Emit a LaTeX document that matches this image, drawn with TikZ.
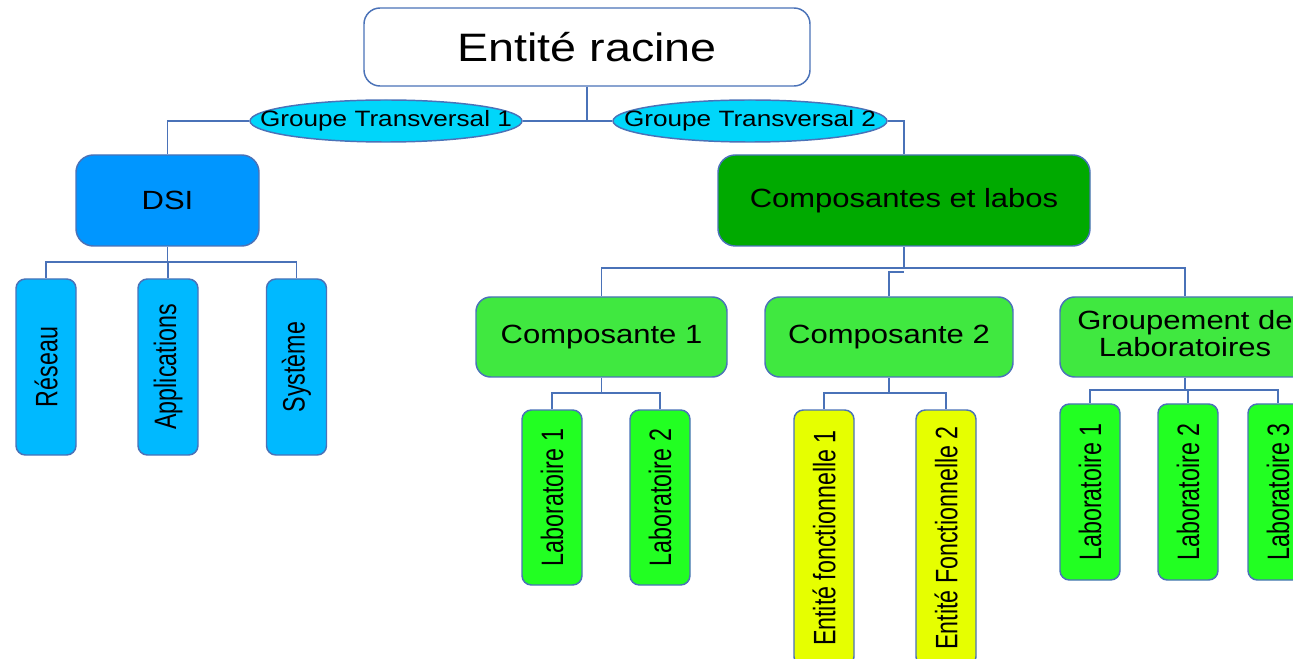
\documentclass[tikz,border=0pt]{standalone}
\usepackage{fontspec}
\setmainfont{Liberation Sans}
\usetikzlibrary{shapes.geometric}
\definecolor{bordc}{RGB}{74,114,184}
\definecolor{gtfill}{RGB}{0,214,250}
\definecolor{dsifill}{RGB}{0,150,255}
\definecolor{dsichild}{RGB}{0,185,255}
\definecolor{compfill}{RGB}{0,170,0}
\definecolor{cfill}{RGB}{64,232,64}
\definecolor{labfill}{RGB}{34,255,34}
\definecolor{effill}{RGB}{230,255,0}
\newcommand{\hsq}[1]{\scalebox{1}[0.85]{#1}}
\newcommand{\vsq}[1]{\rotatebox{90}{\scalebox{0.75}[1]{#1}}}
\tikzset{
  basebox/.style={draw=bordc, line width=1.1pt, inner sep=0pt, text=black},
  bigbox/.style={basebox, rounded corners=13pt, font=\fontsize{23.25}{23}\selectfont},
  tallbox/.style={basebox, rounded corners=7pt, minimum width=45pt, font=\fontsize{23.25}{23}\selectfont},
  gtell/.style={basebox, ellipse, fill=gtfill, minimum width=204pt, minimum height=31.5pt},
  gttext/.style={font=\fontsize{19.6}{20}\selectfont, text=black},
  conn/.style={draw=bordc, line width=1.1pt}
}
\begin{document}
\begin{tikzpicture}[x=0.75pt,y=-0.75pt]
\useasboundingbox (0,0) rectangle (1293,659);
\clip (0,0) rectangle (1293,659);
% root
\node[bigbox, fill=white, rounded corners=12pt, minimum width=334.5pt, minimum height=58.5pt, font=\fontsize{35}{35}\selectfont] (root) at (587,47) {\hsq{Entité racine}};
% transversal groups
\node[gtell, label={[gttext]center:\hsq{Groupe Transversal 1}}] (gt1) at (386,121) {};
\node[gtell, minimum width=205.5pt, label={[gttext]center:\hsq{Groupe Transversal 2}}] (gt2) at (750,121) {};
% level 2
\node[bigbox, fill=dsifill, minimum width=137.25pt, minimum height=68.25pt] (dsi) at (167.5,200.5) {\hsq{DSI}};
\node[bigbox, fill=compfill, minimum width=279pt, minimum height=68.25pt] (comp) at (904,200.5) {\hsq{Composantes et labos}};
% DSI children
\node[tallbox, fill=dsichild, minimum height=132pt] (reseau) at (46,367) {\vsq{Réseau}};
\node[tallbox, fill=dsichild, minimum height=132pt] (appl) at (168,367) {\vsq{Applications}};
\node[tallbox, fill=dsichild, minimum height=132pt] (syst) at (296.5,367) {\vsq{Système}};
% composantes
\node[bigbox, fill=cfill, rounded corners=11pt, minimum width=188.25pt, minimum height=60pt] (c1) at (601.5,337) {\hsq{Composante 1}};
\node[bigbox, fill=cfill, rounded corners=11pt, minimum width=186pt, minimum height=60pt] (c2) at (889,337) {\hsq{Composante 2}};
\node[bigbox, fill=cfill, rounded corners=11pt, minimum width=187.5pt, minimum height=60pt] (grp) at (1185,337) {\hsq{\begin{tabular}{@{}c@{}}Groupement de\\Laboratoires\end{tabular}}};
% leaves
\node[tallbox, fill=labfill, minimum height=131.25pt] (lab1) at (552,497.5) {\vsq{Laboratoire 1}};
\node[tallbox, fill=labfill, minimum height=131.25pt] (lab2) at (660,497.5) {\vsq{Laboratoire 2}};
\node[tallbox, fill=effill, minimum height=192pt] (ef1) at (824,538) {\vsq{Entité fonctionnelle 1}};
\node[tallbox, fill=effill, minimum height=192pt] (ef2) at (946,538) {\vsq{Entité Fonctionnelle 2}};
\node[tallbox, fill=labfill, minimum height=132pt] (glab1) at (1090,492) {\vsq{Laboratoire 1}};
\node[tallbox, fill=labfill, minimum height=132pt] (glab2) at (1188,492) {\vsq{Laboratoire 2}};
\node[tallbox, fill=labfill, minimum height=132pt] (glab3) at (1278,492) {\vsq{Laboratoire 3}};
% junctions
\coordinate (dsij) at (167.5,262);
\coordinate (compj) at (904,268);
\coordinate (compj2) at (904,272);
\coordinate (c1j) at (601.5,393);
\coordinate (c2j) at (889,393);
\coordinate (grpj) at (1185,390);
% connectors
\draw[conn] (root.south) |- (gt1.east);
\draw[conn] (root.south) |- (gt2.west);
\draw[conn] (gt1.west) -| (dsi.north);
\draw[conn] (gt2.east) -| (comp.north);
\draw[conn] (dsi.south) -- (dsij);
\draw[conn] (dsij) -| (reseau.north);
\draw[conn] (dsij) -| (appl.north);
\draw[conn] (dsij) -| (syst.north);
\draw[conn] (comp.south) -- (compj);
\draw[conn] (compj) -| (c1.north);
\draw[conn] (compj) -| (grp.north);
\draw[conn] (c2.north) |- (compj2);
\draw[conn] (c1.south) -- (c1j);
\draw[conn] (c1j) -| (lab1.north);
\draw[conn] (c1j) -| (lab2.north);
\draw[conn] (c2.south) -- (c2j);
\draw[conn] (c2j) -| (ef1.north);
\draw[conn] (c2j) -| (ef2.north);
\draw[conn] (grp.south) -- (grpj);
\draw[conn] (grpj) -| (glab1.north);
\draw[conn] (grpj) -| (glab2.north);
\draw[conn] (grpj) -| (glab3.north);
\end{tikzpicture}
\end{document}
